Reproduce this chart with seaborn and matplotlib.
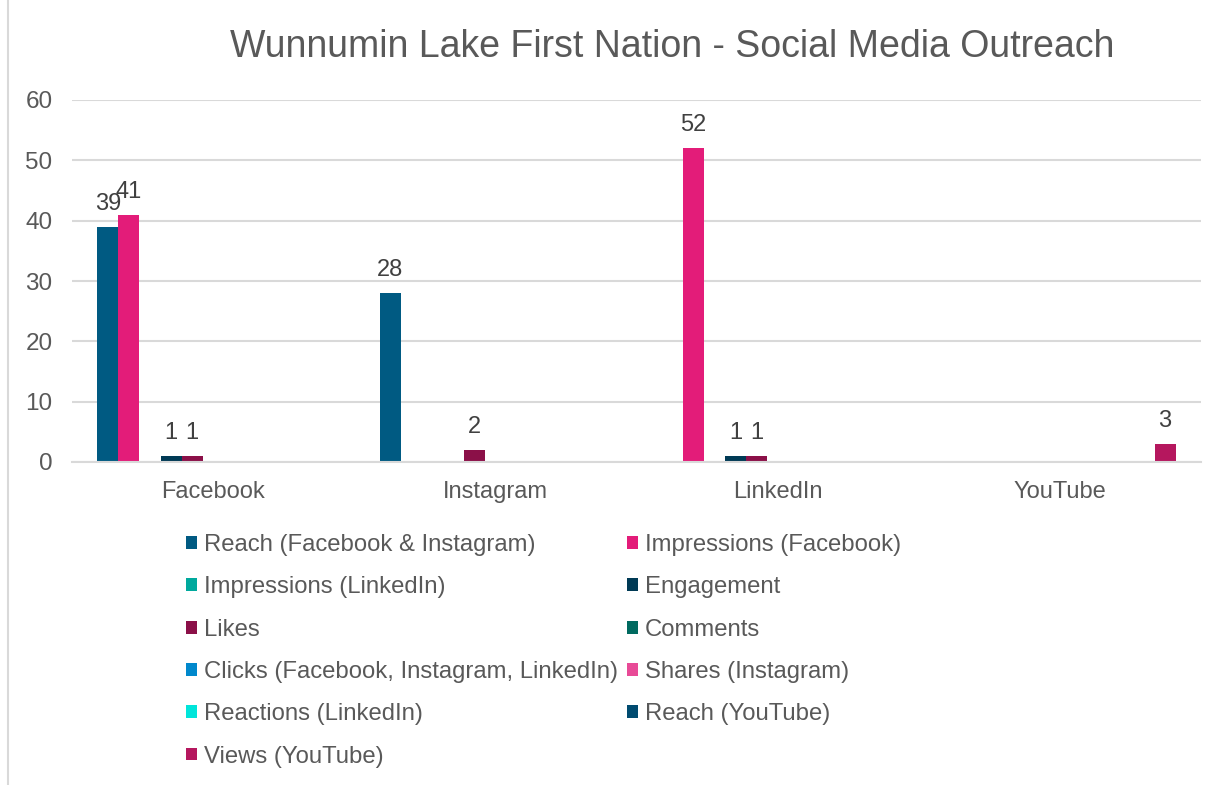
import matplotlib
matplotlib.use('Agg')
import pandas as pd
import numpy as np
from matplotlib import pyplot as plt
from matplotlib.patches import Patch
from matplotlib.lines import Line2D
import seaborn as sns

sns.set_style('white')
plt.rcParams['font.family'] = ['Liberation Sans', 'DejaVu Sans']

# data
categories = ['Facebook', 'Instagram', 'LinkedIn', 'YouTube']
series = ['Reach (Facebook & Instagram)', 'Impressions (Facebook)',
          'Impressions (LinkedIn)', 'Engagement', 'Likes', 'Comments',
          'Clicks (Facebook, Instagram, LinkedIn)', 'Shares (Instagram)',
          'Reactions (LinkedIn)', 'Reach (YouTube)', 'Views (YouTube)']
reach_fb_ig = [39, 28, 0, 0]
impressions_fb = [41, 0, 52, 0]
impressions_li = [0, 0, 0, 0]
engagement = [1, 0, 1, 0]
likes = [1, 2, 1, 0]
comments = [0, 0, 0, 0]
clicks = [0, 0, 0, 0]
shares = [0, 0, 0, 0]
reactions = [0, 0, 0, 0]
reach_yt = [0, 0, 0, 0]
views_yt = [0, 0, 0, 3]
values = [reach_fb_ig, impressions_fb, impressions_li, engagement, likes,
          comments, clicks, shares, reactions, reach_yt, views_yt]

colors = ['#005A82', '#E31C79', '#00A99D', '#003A55', '#8B1048', '#006A60',
          '#0088CC', '#E84A97', '#00E5DA', '#004B70', '#B5175E']

rows = []
for s, vals in zip(series, values):
    for c, v in zip(categories, vals):
        rows.append({'Platform': c, 'Metric': s, 'Value': v})
df = pd.DataFrame(rows)

fig = plt.figure(figsize=(12.25, 7.85), dpi=100)
ax = fig.add_axes([72/1225, 1-462/785, (1201-72)/1225, (462-100)/785])

sns.barplot(data=df, x='Platform', y='Value', hue='Metric', order=categories,
            hue_order=series, palette=colors, width=0.82, linewidth=0,
            saturation=1, errorbar=None, legend=False, ax=ax)

for cont, vals in zip(ax.containers, values):
    labels = [str(v) if v else '' for v in vals]
    ax.bar_label(cont, labels=labels, padding=8.5, fontsize=17, color='#404040')

ax.set_ylim(0, 60)
ax.set_yticks(range(0, 61, 10))
ax.set_xlabel('')
ax.set_ylabel('')
ax.yaxis.grid(True, color='#D9D9D9', linewidth=1.5)
ax.set_axisbelow(True)
for sp in ['left', 'top', 'right']:
    ax.spines[sp].set_visible(False)
ax.spines['bottom'].set_color('#D9D9D9')
ax.spines['bottom'].set_linewidth(1.5)
ax.tick_params(axis='y', length=0, pad=14, labelsize=17.5, labelcolor='#595959')
ax.tick_params(axis='x', length=0, pad=13.5, labelsize=17, labelcolor='#595959')

fig.text(672/1225, 1-47/785, 'Wunnumin Lake First Nation - Social Media Outreach',
         ha='center', va='center', fontsize=27, color='#595959')

# legend, row-major order like the original
order = [0, 2, 4, 6, 8, 10, 1, 3, 5, 7, 9]
handles = [Patch(facecolor=colors[i], edgecolor='none') for i in order]
labels = [series[i] for i in order]
fig.legend(handles, labels, ncol=2, loc='upper left',
           bbox_to_anchor=(186/1225, 1-534/785), frameon=False,
           fontsize=17.2, labelcolor='#595959', handlelength=0.45,
           handleheight=0.45, handletextpad=0.3, columnspacing=0.38,
           labelspacing=0.85, borderpad=0, borderaxespad=0)

fig.add_artist(Line2D([8/1225, 8/1225], [0, 1], color='#D9D9D9', linewidth=1.5,
                      transform=fig.transFigure))

plt.savefig('out.png', dpi=100)
